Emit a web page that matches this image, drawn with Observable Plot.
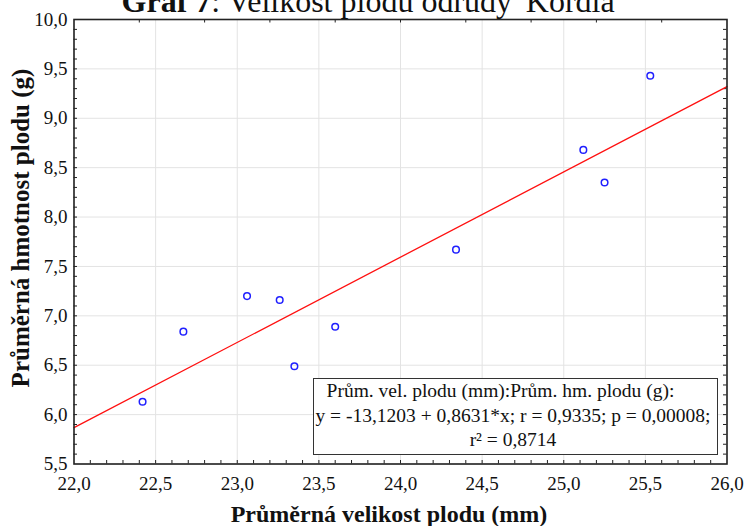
<!DOCTYPE html>
<html>
<head>
<meta charset="utf-8">
<script src="https://cdn.jsdelivr.net/npm/d3@7"></script>
<script src="https://cdn.jsdelivr.net/npm/@observablehq/plot@0.6"></script>
<style>
  html, body { margin: 0; padding: 0; background: #fff; }
  #chart { position: relative; width: 744px; height: 526px; overflow: hidden; font-family: "Liberation Serif", "Times New Roman", serif; color: #111; }
  #chart svg { position: absolute; left: 0; top: 0; }
  #chart svg text { font-family: "Liberation Serif", "Times New Roman", serif; }
  .title { position: absolute; left: 0; width: 742px; top: -15px; font-size: 32px; line-height: 1; text-align: center; white-space: nowrap; }
  .title b { font-weight: bold; }
  .xlabel { position: absolute; left: 189px; width: 400px; top: 499px; height: 30px; line-height: 30px; font-size: 24px; font-weight: bold; text-align: center; white-space: nowrap; }
  .ylabel { position: absolute; left: -178.6px; width: 400px; top: 213px; height: 30px; line-height: 30px; font-size: 25px; font-weight: bold; text-align: center; white-space: nowrap; transform: rotate(-90deg); }
  .stats { position: absolute; left: 312.7px; top: 378.3px; width: 405.6px; height: 76.7px; box-sizing: border-box; border: 1.5px solid #333; background: #fff; font-size: 19.5px; line-height: 24.2px; text-align: center; padding-right: 5px; white-space: nowrap; }
  .stats .l1 { padding-right: 25px; }
</style>
</head>
<body>
<div id="chart">
  <div class="title"><b>Graf 7</b>: Velikost plodu odrůdy 'Kordia'</div>
</div>
<script>
// Mean fruit size (mm) and mean fruit weight (g) per sample
const sizeMm  = [22.42, 22.67, 23.06, 23.26, 23.35, 23.60, 24.34, 25.12, 25.25, 25.53];
const weightG = [6.13, 6.84, 7.20, 7.16, 6.49, 6.89, 7.67, 8.68, 8.35, 9.43];

// Fitted regression reported in the stats box
const intercept = -13.1203;
const slope = 0.8631;
const rValue = "0,9335";
const pValue = "0,00008";
const r2Value = "0,8714";

// Axis ticks
const xTicks = [22.0, 22.5, 23.0, 23.5, 24.0, 24.5, 25.0, 25.5, 26.0];
const yTicks = [5.5, 6.0, 6.5, 7.0, 7.5, 8.0, 8.5, 9.0, 9.5, 10.0];
const xTopTicks = [22.4, 22.8, 23.2, 23.6, 24.0, 24.4, 24.8, 25.2, 25.6];
const xDomain = [22, 26];
const yDomain = [5.5, 10];

const xTitle = "Průměrná velikost plodu (mm)";
const yTitle = "Průměrná hmotnost plodu (g)";

const points = sizeMm.map((x, i) => ({x, y: weightG[i]}));
const fit = xDomain.map(x => ({x, y: intercept + slope * x}));

const xMinor = d3.range(221, 260).map(d => d / 10);
const yMinor = d3.range(56, 100).map(d => d / 10);

const fmt = d => d3.format(".1f")(d).replace(".", ",");

const W = 744, H = 526;
const mL = 73.5, mR = 17.5, mT = 19, mB = 62.5;
const innerW = W - mL - mR, innerH = H - mT - mB;
const tickLen = 3.5;
const ink = "#222";

const plot = Plot.plot({
  width: W,
  height: H,
  marginLeft: mL,
  marginRight: mR,
  marginTop: mT,
  marginBottom: mB,
  style: {fontFamily: "Liberation Serif, Times New Roman, serif", fontSize: "19px", color: "#111", background: "transparent"},
  x: {domain: xDomain},
  y: {domain: yDomain},
  marks: [
    Plot.gridX(xTicks, {stroke: "#e3e3e3", strokeOpacity: 1, strokeWidth: 1}),
    Plot.gridY(yTicks, {stroke: "#e3e3e3", strokeOpacity: 1, strokeWidth: 1}),
    // short inward ticks along each side of the frame
    Plot.tickX(xMinor, {x: d => d, insetTop: innerH - tickLen, stroke: ink, strokeWidth: 1}),
    Plot.tickX(xTopTicks, {x: d => d, insetBottom: innerH - tickLen, stroke: ink, strokeWidth: 1}),
    Plot.tickY(yMinor, {y: d => d, insetRight: innerW - tickLen, stroke: ink, strokeWidth: 1}),
    Plot.tickY(yMinor, {y: d => d, insetLeft: innerW - tickLen, stroke: ink, strokeWidth: 1}),
    Plot.axisX(xTicks, {tickSize: 0, tickPadding: 12, tickFormat: fmt, label: null}),
    Plot.axisY(yTicks, {tickSize: 0, tickPadding: 6.5, tickFormat: fmt, label: null}),
    Plot.line(fit, {x: "x", y: "y", stroke: "#ff1010", strokeWidth: 1.3}),
    Plot.dot(points, {x: "x", y: "y", r: 3.3, stroke: "#2020ff", strokeWidth: 1.5, fill: "none"}),
    Plot.frame({stroke: ink, strokeWidth: 1.6})
  ]
});

const chart = document.getElementById("chart");
chart.insertBefore(plot, chart.firstChild);

const xl = document.createElement("div");
xl.className = "xlabel";
xl.textContent = xTitle;
chart.appendChild(xl);

const yl = document.createElement("div");
yl.className = "ylabel";
yl.textContent = yTitle;
chart.appendChild(yl);

const fmt4 = v => d3.format(".4f")(Math.abs(v)).replace(".", ",");
const stats = document.createElement("div");
stats.className = "stats";
stats.innerHTML =
  `<div class="l1">Prům. vel. plodu (mm):Prům. hm. plodu (g):</div>` +
  `<div>y = ${intercept < 0 ? "-" : ""}${fmt4(intercept)} + ${fmt4(slope)}*x; r = ${rValue}; p = ${pValue};</div>` +
  `<div>r² = ${r2Value}</div>`;
chart.appendChild(stats);
</script>
</body>
</html>
